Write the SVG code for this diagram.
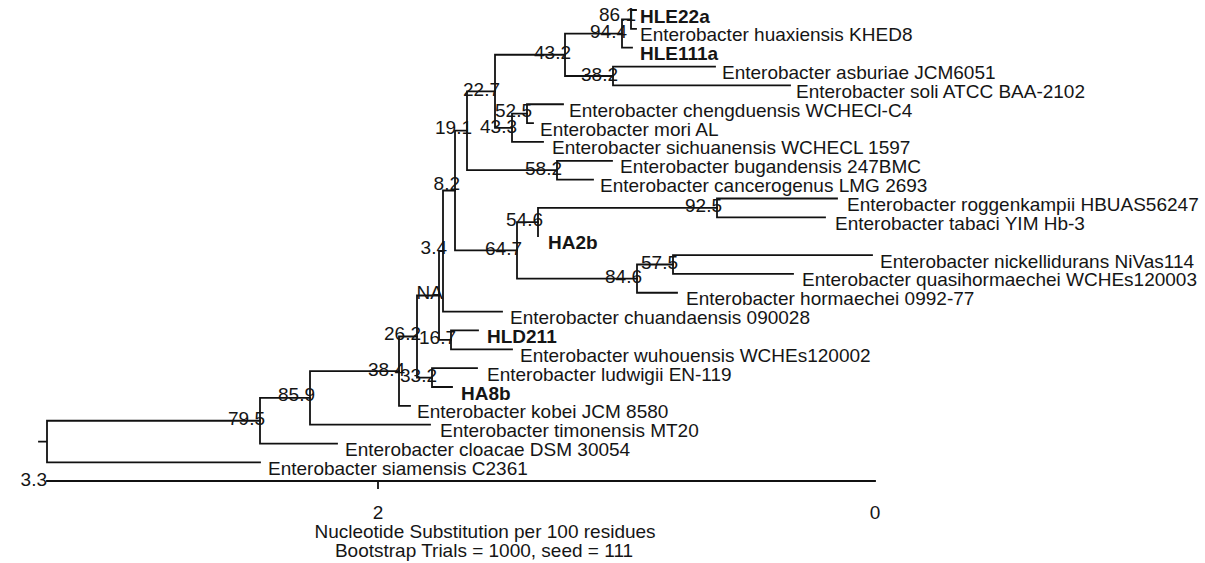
<svg xmlns="http://www.w3.org/2000/svg" width="1205" height="563" viewBox="0 0 1205 563">
<style>
text{font-family:"Liberation Sans",Arial,sans-serif;font-size:19px;fill:#151515}
.b{font-weight:bold}
.bs{text-anchor:end}
.m{text-anchor:middle}
.br{fill:none;stroke:#111;stroke-width:1.8;stroke-linecap:square}
</style>
<rect width="1205" height="563" fill="#fff"/>
<g id="connectors" class="br">
<path d="M39 441.6H47M47 420.75V462.4M47 420.75H260M47 462.4H260"/>
<path d="M260 397.95V443.55M260 397.95H310M260 443.55H337"/>
<path d="M310 371.2V424.7M310 371.2H399M310 424.7H430"/>
<path d="M399 336.5V405.85M399 336.5H417M399 405.85H410"/>
<path d="M417 295.5V377.6M417 295.5H439M417 377.6H432"/>
<path d="M432 368.15V387M432 368.15H477M432 387H452"/>
<path d="M439 251.05V339.9M439 251.05H443M439 339.9H451"/>
<path d="M451 330.45V349.3M451 330.45H478M451 349.3H512"/>
<path d="M443 190.5V311.6M443 190.5H455M443 311.6H502"/>
<path d="M455 130.7V250.3M455 130.7H467M455 250.3H517"/>
<path d="M517 222.05V278.6M517 222.05H538M517 278.6H637"/>
<path d="M538 207.9V236.2M538 207.9H717"/>
<path d="M717 198.5V217.35M717 198.5H837M717 217.35H825"/>
<path d="M637 264.5V292.75M637 264.5H673M637 292.75H677"/>
<path d="M673 255.05V273.9M673 255.05H872M673 273.9H793"/>
<path d="M467 91.28V170.2M467 91.28H495M467 170.2H557"/>
<path d="M557 160.8V179.65M557 160.8H612M557 179.65H593"/>
<path d="M495 54.76V127.8M495 54.76H565M495 127.8H512"/>
<path d="M512 113.68V141.95M512 113.68H527M512 141.95H543"/>
<path d="M527 104.25V123.1M527 104.25H563M527 123.1H533"/>
<path d="M565 33.55V75.98M565 33.55H622M565 75.98H613"/>
<path d="M613 66.55V85.4M613 66.55H715M613 85.4H790"/>
<path d="M622 19.4V47.7M622 19.4H631M622 47.7H632"/>
<path d="M631 10V28.85M631 10H636M631 28.85H636"/>
</g>
<g id="tips">
<g id="t1"><text class="b" x="640" y="22.5">HLE22a</text></g>
<g id="t2"><text x="640" y="41.3">Enterobacter huaxiensis KHED8</text></g>
<g id="t3"><text class="b" x="640" y="60.2">HLE111a</text></g>
<g id="t4"><text x="722" y="79">Enterobacter asburiae JCM6051</text></g>
<g id="t5"><text x="796" y="97.9">Enterobacter soli ATCC BAA-2102</text></g>
<g id="t6"><text x="569" y="116.7">Enterobacter chengduensis WCHECl-C4</text></g>
<g id="t7"><text x="540" y="135.6">Enterobacter mori AL</text></g>
<g id="t8"><text x="552" y="154.4">Enterobacter sichuanensis WCHECL 1597</text></g>
<g id="t9"><text x="620" y="173.3">Enterobacter bugandensis 247BMC</text></g>
<g id="t10"><text x="600" y="192.1">Enterobacter cancerogenus LMG 2693</text></g>
<g id="t11"><text x="847" y="211">Enterobacter roggenkampii HBUAS56247</text></g>
<g id="t12"><text x="835" y="229.8">Enterobacter tabaci YIM Hb-3</text></g>
<g id="t13"><text class="b" x="548" y="248.7">HA2b</text></g>
<g id="t14"><text x="880" y="267.5">Enterobacter nickellidurans NiVas114</text></g>
<g id="t15"><text x="802" y="286.4">Enterobacter quasihormaechei WCHEs120003</text></g>
<g id="t16"><text x="686" y="305.2">Enterobacter hormaechei 0992-77</text></g>
<g id="t17"><text x="510" y="324.1">Enterobacter chuandaensis 090028</text></g>
<g id="t18"><text class="b" x="487" y="343">HLD211</text></g>
<g id="t19"><text x="520" y="361.8">Enterobacter wuhouensis WCHEs120002</text></g>
<g id="t20"><text x="487" y="380.6">Enterobacter ludwigii EN-119</text></g>
<g id="t21"><text class="b" x="461" y="399.5">HA8b</text></g>
<g id="t22"><text x="417" y="418.3">Enterobacter kobei JCM 8580</text></g>
<g id="t23"><text x="440" y="437.2">Enterobacter timonensis MT20</text></g>
<g id="t24"><text x="345" y="456">Enterobacter cloacae DSM 30054</text></g>
<g id="t25"><text x="268" y="474.9">Enterobacter siamensis C2361</text></g>
</g>
<g id="bootstrap" class="bs">
<g id="n86_1"><text class="bs" x="636" y="20.5">86.1</text></g>
<g id="n94_4"><text class="bs" x="627" y="38">94.4</text></g>
<g id="n43_2"><text class="bs" x="571" y="59">43.2</text></g>
<g id="n38_2"><text class="bs" x="618" y="80.5">38.2</text></g>
<g id="n22_7"><text class="bs" x="500" y="95.5">22.7</text></g>
<g id="n52_5"><text class="bs" x="532" y="116.5">52.5</text></g>
<g id="n43_3"><text class="bs" x="517" y="132.5">43.3</text></g>
<g id="n19_1"><text class="bs" x="472" y="134">19.1</text></g>
<g id="n58_2"><text class="bs" x="562" y="174.5">58.2</text></g>
<g id="n8_2"><text class="bs" x="460" y="190">8.2</text></g>
<g id="n92_5"><text class="bs" x="722" y="212">92.5</text></g>
<g id="n54_6"><text class="bs" x="543" y="226">54.6</text></g>
<g id="n3_4"><text class="bs" x="447" y="254">3.4</text></g>
<g id="n64_7"><text class="bs" x="522" y="254.5">64.7</text></g>
<g id="n57_5"><text class="bs" x="678" y="268.5">57.5</text></g>
<g id="n84_6"><text class="bs" x="642" y="283">84.6</text></g>
<g id="nNA"><text class="bs" x="443" y="298.5">NA</text></g>
<g id="n26_2"><text class="bs" x="421" y="340">26.2</text></g>
<g id="n16_7"><text class="bs" x="456" y="344">16.7</text></g>
<g id="n38_4"><text class="bs" x="405" y="375.5">38.4</text></g>
<g id="n33_2"><text class="bs" x="437" y="382">33.2</text></g>
<g id="n85_9"><text class="bs" x="315" y="401">85.9</text></g>
<g id="n79_5"><text class="bs" x="265" y="425">79.5</text></g>
</g>
<g id="scale">
<path class="br" d="M47 481H875M378 481V488"/>
<text class="bs" x="47" y="486">3.3</text>
<text class="m" x="378" y="519">2</text>
<text class="m" x="875" y="519">0</text>
<text class="m" x="485" y="538">Nucleotide Substitution per 100 residues</text>
<text class="m" x="484" y="557">Bootstrap Trials = 1000, seed = 111</text>
</g>
</svg>
